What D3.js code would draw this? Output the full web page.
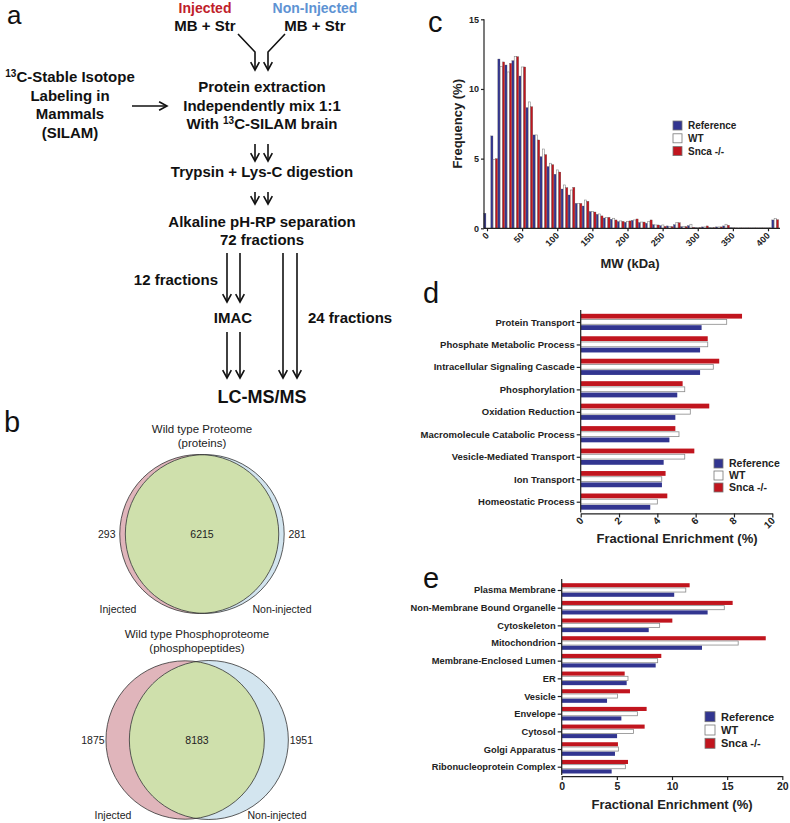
<!DOCTYPE html>
<html>
<head>
<meta charset="utf-8">
<script src="https://cdn.jsdelivr.net/npm/d3@7"></script>
<style>
  body { margin: 0; background: #fff; }
  svg text { font-family: "Liberation Sans", Arial, Helvetica, sans-serif; }
</style>
</head>
<body>
<svg id="fig" width="790" height="823"></svg>
<script>
// ---- data ----
const seriesNames = ['Reference', 'WT', 'Snca -/-'];

// c: MW histogram, 10 kDa bins
const mwBins = [0, 10, 20, 30, 40, 50, 60, 70, 80, 90, 100, 110, 120, 130, 140, 150, 160, 170, 180, 190,
  200, 210, 220, 230, 240, 250, 260, 270, 280, 290, 300, 310, 320, 330, 340, 350, 360, 370, 380, 390, 400, 410];
const mwTicks = [0, 50, 100, 150, 200, 250, 300, 350, 400];
const refFreq = [1.08, 6.63, 12.15, 11.72, 12.03, 10.93, 8.66, 6.7, 5.14, 4.43, 3.88, 2.82, 2.39, 1.79, 1.6, 1.2, 1.0, 0.74, 0.65, 0.48,
  0.43, 0.57, 0.41, 0.36, 0.26, 0.19, 0.17, 0.26, 0.12, 0.19, 0.05, 0.1, 0.05, 0.1, 0.17, 0.05, 0.03, 0.03, 0.03, 0.03, 0.03, 0.6];
const wtFreq = [0, 4.95, 11.6, 11.22, 12.32, 11.58, 9.07, 6.7, 5.69, 4.67, 4.19, 3.11, 2.75, 1.79, 2.03, 1.2, 1.03, 0.79, 0.72, 0.53,
  0.5, 0.6, 0.45, 0.48, 0.24, 0.24, 0.14, 0.43, 0.12, 0.29, 0.05, 0.1, 0.05, 0.1, 0.29, 0.05, 0.04, 0.04, 0.04, 0.04, 0.04, 0.7];
const sncaFreq = [0, 5.0, 11.94, 11.84, 12.32, 11.58, 8.73, 6.34, 5.29, 4.57, 4.04, 2.92, 2.94, 1.79, 1.94, 1.17, 0.89, 0.79, 0.6, 0.5,
  0.53, 0.67, 0.45, 0.6, 0.24, 0.14, 0.12, 0.4, 0.12, 0.07, 0.05, 0.17, 0.05, 0.1, 0.22, 0.03, 0.03, 0.03, 0.03, 0.03, 0.03, 0.62];
const freqTicks = [0, 5, 10, 15];

// d: biological process
const goTerms = ['Protein Transport', 'Phosphate Metabolic Process', 'Intracellular Signaling Cascade', 'Phosphorylation',
  'Oxidation Reduction', 'Macromolecule Catabolic Process', 'Vesicle-Mediated Transport', 'Ion Transport', 'Homeostatic Process'];
const goRef = [6.31, 6.23, 6.23, 5.04, 4.94, 4.63, 4.33, 4.24, 3.63];
const goWT = [7.62, 6.63, 6.92, 5.43, 5.72, 5.13, 5.43, 4.23, 4.0];
const goSnca = [8.42, 6.63, 7.23, 5.32, 6.71, 4.94, 5.93, 4.43, 4.52];
const goTicks = [0, 2, 4, 6, 8, 10];

// e: cellular component
const ccTerms = ['Plasma Membrane', 'Non-Membrane Bound Organelle', 'Cytoskeleton', 'Mitochondrion', 'Membrane-Enclosed Lumen',
  'ER', 'Vesicle', 'Envelope', 'Cytosol', 'Golgi Apparatus', 'Ribonucleoprotein Complex'];
const ccRef = [10.2, 13.23, 7.89, 12.72, 8.52, 5.89, 4.11, 5.41, 5.02, 4.83, 4.53];
const ccWT = [11.25, 14.74, 8.88, 16.0, 8.7, 6.01, 5.05, 6.86, 6.5, 5.14, 5.77];
const ccSnca = [11.6, 15.5, 10.03, 18.5, 9.03, 5.71, 6.19, 7.7, 7.52, 5.1, 6.01];
const ccTicks = [0, 5, 10, 15, 20];

// b: Venn counts
const vennTitles = [['Wild type Proteome', '(proteins)'], ['Wild type Phosphoproteome', '(phosphopeptides)']];
const vennSetNames = ['Injected', 'Non-injected'];
const injectedOnly = [293, 1875];
const sharedCount = [6215, 8183];
const nonInjectedOnly = [281, 1951];

// ---- style ----
const COL = { ref: '#323590', wt: '#ffffff', snca: '#c1151e' };
const seriesCol = [COL.ref, COL.wt, COL.snca];
const svg = d3.select('#fig');

// panel letters
const letters = [['a', 7, 24, 26], ['b', 4, 432, 29], ['c', 428, 32, 29], ['d', 423, 303, 29], ['e', 423, 588, 29]];
svg.selectAll('.letter').data(letters).enter().append('text')
  .attr('class', 'letter')
  .attr('x', d => d[1]).attr('y', d => d[2])
  .style('font-size', d => d[3] + 'px').style('fill', '#111')
  .text(d => d[0]);

// ---- a: workflow ----
const flow = svg.append('g');
const flowText = [
  { t: 'Injected', x: 205, y: 13, c: '#c0202a', s: 14 },
  { t: 'MB + Str', x: 205, y: 30.5 },
  { t: 'Non-Injected', x: 315, y: 13, c: '#5e93d3', s: 14 },
  { t: 'MB + Str', x: 315, y: 30.5 },
  { t: 'Protein extraction', x: 262, y: 92 },
  { t: 'Independently mix 1:1', x: 262, y: 111 },
  { t: 'Labeling in', x: 70, y: 101 },
  { t: 'Mammals', x: 70, y: 119 },
  { t: '(SILAM)', x: 70, y: 138 },
  { t: 'Trypsin + Lys-C digestion', x: 262, y: 177 },
  { t: 'Alkaline pH-RP separation', x: 262, y: 227 },
  { t: '72 fractions', x: 262, y: 245 },
  { t: '12 fractions', x: 218, y: 285, a: 'end' },
  { t: 'IMAC', x: 233, y: 323 },
  { t: '24 fractions', x: 308, y: 323, a: 'start' },
  { t: 'LC-MS/MS', x: 262, y: 403, s: 18 },
];
flow.selectAll('text.ft').data(flowText).enter().append('text')
  .attr('class', 'ft')
  .attr('x', d => d.x).attr('y', d => d.y)
  .attr('text-anchor', d => d.a || 'middle')
  .style('font-weight', 'bold')
  .style('font-size', d => (d.s || 15) + 'px')
  .style('fill', d => d.c || '#111')
  .text(d => d.t);

function supText(x, y, pre, sup, rest) {
  const t = flow.append('text').attr('x', x).attr('y', y).attr('text-anchor', 'middle')
    .style('font-weight', 'bold').style('font-size', '15px').style('fill', '#111');
  if (pre) t.append('tspan').text(pre);
  t.append('tspan').attr('dy', -5).style('font-size', '10px').text(sup);
  t.append('tspan').attr('dy', 5).text(rest);
}
supText(70, 82, '', '13', 'C-Stable Isotope');
supText(262, 129, 'With ', '13', 'C-SILAM brain');

const arrows = [
  [[238, 34], [255, 52], [255, 70]],
  [[285, 34], [268, 52], [268, 70]],
  [[255, 144], [255, 161]], [[268, 144], [268, 161]],
  [[255, 192], [255, 204]], [[268, 192], [268, 204]],
  [[227, 253], [227, 302]], [[240, 253], [240, 302]],
  [[283, 253], [283, 378]], [[297, 253], [297, 378]],
  [[227, 332], [227, 378]], [[240, 332], [240, 378]],
  [[132, 106], [167, 106]],
];
const line = d3.line();
arrows.forEach((pts) => {
  flow.append('path').attr('d', line(pts))
    .attr('fill', 'none').attr('stroke', '#111').attr('stroke-width', 1.6);
  const [x1, y1] = pts[pts.length - 2];
  const [x2, y2] = pts[pts.length - 1];
  const ang = Math.atan2(y2 - y1, x2 - x1);
  const L = 9, w = 0.5;
  const head = [
    [x2 - L * Math.cos(ang - w), y2 - L * Math.sin(ang - w)],
    [x2, y2],
    [x2 - L * Math.cos(ang + w), y2 - L * Math.sin(ang + w)],
  ];
  flow.append('path').attr('d', line(head))
    .attr('fill', 'none').attr('stroke', '#111').attr('stroke-width', 1.6);
});

// ---- b: Venn diagrams ----
function lensArea(r1, r2, d) {
  if (d >= r1 + r2) return 0;
  if (d <= Math.abs(r1 - r2)) return Math.PI * Math.min(r1, r2) ** 2;
  const a = r1 * r1 * Math.acos((d * d + r1 * r1 - r2 * r2) / (2 * d * r1));
  const b = r2 * r2 * Math.acos((d * d + r2 * r2 - r1 * r1) / (2 * d * r2));
  const c = 0.5 * Math.sqrt((-d + r1 + r2) * (d + r1 - r2) * (d - r1 + r2) * (d + r1 + r2));
  return a + b - c;
}
const vennPos = [{ cx: 202, cy: 534, ty: 433 }, { cx: 197, cy: 740, ty: 638 }];
const defs = svg.append('defs');
vennPos.forEach((p, i) => {
  const totA = injectedOnly[i] + sharedCount[i];
  const totB = nonInjectedOnly[i] + sharedCount[i];
  const rS = d3.scaleSqrt().domain([0, Math.max(totA, totB)]).range([0, 79.5]);
  const r1 = rS(totA), r2 = rS(totB);
  const target = Math.PI * rS(sharedCount[i]) ** 2;
  let lo = Math.abs(r1 - r2), hi = r1 + r2;
  for (let k = 0; k < 60; k++) {
    const mid = (lo + hi) / 2;
    if (lensArea(r1, r2, mid) > target) lo = mid; else hi = mid;
  }
  const dist = (lo + hi) / 2;
  const c1 = p.cx - dist / 2, c2 = p.cx + dist / 2;
  const g = svg.append('g');
  defs.append('clipPath').attr('id', 'vclip' + i)
    .append('circle').attr('cx', c1).attr('cy', p.cy).attr('r', r1);
  g.append('circle').attr('cx', c1).attr('cy', p.cy).attr('r', r1).attr('fill', '#e0b5bb');
  g.append('circle').attr('cx', c2).attr('cy', p.cy).attr('r', r2).attr('fill', '#d3e5ef');
  g.append('circle').attr('cx', c2).attr('cy', p.cy).attr('r', r2).attr('fill', '#cfe0ac')
    .attr('clip-path', `url(#vclip${i})`);
  [[c1, r1], [c2, r2]].forEach(([cx, r]) => {
    g.append('circle').attr('cx', cx).attr('cy', p.cy).attr('r', r)
      .attr('fill', 'none').attr('stroke', '#333').attr('stroke-width', 0.8);
  });
  // labels
  const leftA = c1 - r1, leftB = c2 - r2, rightA = c1 + r1, rightB = c2 + r2;
  const lx = (leftB - leftA) > 30 ? (leftA + leftB) / 2 : leftA - 13;
  const rx = (rightB - rightA) > 30 ? (rightA + rightB) / 2 : rightB + 13;
  const labels = [
    { t: injectedOnly[i], x: lx, y: p.cy + 4 },
    { t: sharedCount[i], x: p.cx, y: p.cy + 4 },
    { t: nonInjectedOnly[i], x: rx, y: p.cy + 4 },
    { t: vennSetNames[0], x: p.cx - 84, y: p.cy + 79 },
    { t: vennSetNames[1], x: p.cx + 80, y: p.cy + 79 },
  ];
  g.selectAll('text.vl').data(labels).enter().append('text')
    .attr('x', d => d.x).attr('y', d => d.y).attr('text-anchor', 'middle')
    .style('font-size', '10.5px').style('fill', '#222').text(d => d.t);
  g.selectAll('text.vt').data(vennTitles[i]).enter().append('text')
    .attr('x', p.cx).attr('y', (d, k) => p.ty + k * 13.5).attr('text-anchor', 'middle')
    .style('font-size', '11.5px').style('fill', '#222').text(d => d);
});

// ---- legend helper ----
function legend(x, y, step, size, fs) {
  const g = svg.append('g').attr('transform', `translate(${x},${y})`);
  seriesNames.forEach((n, i) => {
    g.append('rect').attr('x', 0).attr('y', i * step - size / 2).attr('width', size).attr('height', size)
      .attr('fill', seriesCol[i]).attr('stroke', '#777').attr('stroke-width', 0.8);
    g.append('text').attr('x', size + 6).attr('y', i * step).attr('dy', '0.36em')
      .style('font-weight', 'bold').style('font-size', fs + 'px').style('fill', '#222').text(n);
  });
}

function styleAxis(g, fs) {
  g.selectAll('text').style('font-weight', 'bold').style('font-size', fs + 'px').style('fill', '#222')
    .style('font-family', '"Liberation Sans", Arial, sans-serif');
  g.selectAll('line, path').attr('stroke', '#222').attr('stroke-width', 1.2);
}

// ---- c: histogram ----
const xC = d3.scaleLinear().domain([0, 400]).range([487, 768]);
const yC = d3.scaleLinear().domain([0, 15]).range([228.3, 19.3]);
const subC = d3.scaleBand().domain(seriesNames).range([-3.2, 3.6]).paddingInner(0.08);
const gC = svg.append('g');
[refFreq, wtFreq, sncaFreq].forEach((vals, si) => {
  gC.selectAll(null).data(mwBins).enter().append('rect')
    .attr('x', d => xC(d) + subC(seriesNames[si]))
    .attr('y', (d, j) => yC(vals[j]))
    .attr('width', subC.bandwidth())
    .attr('height', (d, j) => yC(0) - yC(vals[j]))
    .attr('fill', seriesCol[si])
    .attr('stroke', si === 1 ? '#8a8a8a' : '#555')
    .attr('stroke-width', si === 1 ? 0.6 : 0.3);
});
const axCy = svg.append('g').attr('transform', 'translate(484,0)')
  .call(d3.axisLeft(yC).tickValues(freqTicks).tickSize(3).tickPadding(2).tickSizeOuter(0));
axCy.select('.domain').attr('d', `M0,${yC(15)}V${yC(0)}`);
styleAxis(axCy, 9);
const axCx = svg.append('g').attr('transform', `translate(0,${yC(0)})`)
  .call(d3.axisBottom(xC).tickValues(mwTicks).tickSize(3).tickSizeOuter(0));
axCx.select('.domain').attr('d', 'M484,0H780');
styleAxis(axCx, 9);
axCx.selectAll('text').attr('y', 0).attr('dy', 0)
  .attr('transform', 'translate(2,8) rotate(-45)').style('text-anchor', 'end');
svg.append('text').attr('transform', `translate(462,${(yC(0) + yC(15)) / 2}) rotate(-90)`)
  .attr('text-anchor', 'middle').style('font-weight', 'bold').style('font-size', '13px').style('fill', '#222')
  .text('Frequency (%)');
svg.append('text').attr('x', 630).attr('y', 268).attr('text-anchor', 'middle')
  .style('font-weight', 'bold').style('font-size', '13px').style('fill', '#222').text('MW (kDa)');
legend(673, 125.5, 12.8, 9, 10);

// ---- grouped horizontal bars ----
function hbarPanel(terms, vals, x, y, off, ticks, tickFs, labelFs) {
  const g = svg.append('g');
  const order = [2, 1, 0]; // Snca on top, then WT, then Reference
  order.forEach((si) => {
    g.selectAll(null).data(terms).enter().append('rect')
      .attr('x', x(0))
      .attr('y', d => y(d) + off(seriesNames[si]))
      .attr('width', (d, j) => x(vals[si][j]) - x(0))
      .attr('height', off.bandwidth())
      .attr('fill', seriesCol[si])
      .attr('stroke', si === 1 ? '#8a8a8a' : 'none')
      .attr('stroke-width', 0.8);
  });
  const ay = svg.append('g').attr('transform', `translate(${x(0)},0)`)
    .call(d3.axisLeft(y).tickSize(4).tickPadding(2).tickSizeOuter(0));
  styleAxis(ay, labelFs);
  const ax = svg.append('g').attr('transform', `translate(0,${y.range()[1] + y.step() / 2 + 0.5})`)
    .call(d3.axisBottom(x).tickValues(ticks).tickSize(4).tickSizeOuter(0));
  styleAxis(ax, tickFs);
  return { ay, ax };
}

// d
const xD = d3.scaleLinear().domain([0, 10]).range([580.7, 772.3]);
const yD = d3.scalePoint().domain(goTerms).range([322, 501.7]);
const offD = d3.scaleBand().domain([seriesNames[2], seriesNames[1], seriesNames[0]]).range([-8.2, 8]).paddingInner(0.16);
const pD = hbarPanel(goTerms, [goRef, goWT, goSnca], xD, yD, offD, goTicks, 10, 9.5);
pD.ay.select('.domain').attr('d', 'M0,310V512.5');
pD.ax.selectAll('text').attr('y', 0).attr('dy', 0)
  .attr('transform', 'translate(3,8) rotate(-45)').style('text-anchor', 'end');
svg.append('text').attr('x', 677).attr('y', 543).attr('text-anchor', 'middle')
  .style('font-weight', 'bold').style('font-size', '13px').style('fill', '#222').text('Fractional Enrichment (%)');
legend(714, 463.5, 12, 9, 10.5);

// e
const xE = d3.scaleLinear().domain([0, 20]).range([561.7, 782.3]);
const yE = d3.scalePoint().domain(ccTerms).range([590, 766.7]);
const offE = d3.scaleBand().domain([seriesNames[2], seriesNames[1], seriesNames[0]]).range([-6.8, 6.8]).paddingInner(0.14);
const pE = hbarPanel(ccTerms, [ccRef, ccWT, ccSnca], xE, yE, offE, ccTicks, 10.5, 9.3);
pE.ay.select('.domain').attr('d', 'M0,579V775');
pE.ax.selectAll('text').attr('y', 7);
svg.append('text').attr('x', 672).attr('y', 809).attr('text-anchor', 'middle')
  .style('font-weight', 'bold').style('font-size', '13px').style('fill', '#222').text('Fractional Enrichment (%)');
legend(705, 716.7, 13.3, 10, 11);
</script>
</body>
</html>
